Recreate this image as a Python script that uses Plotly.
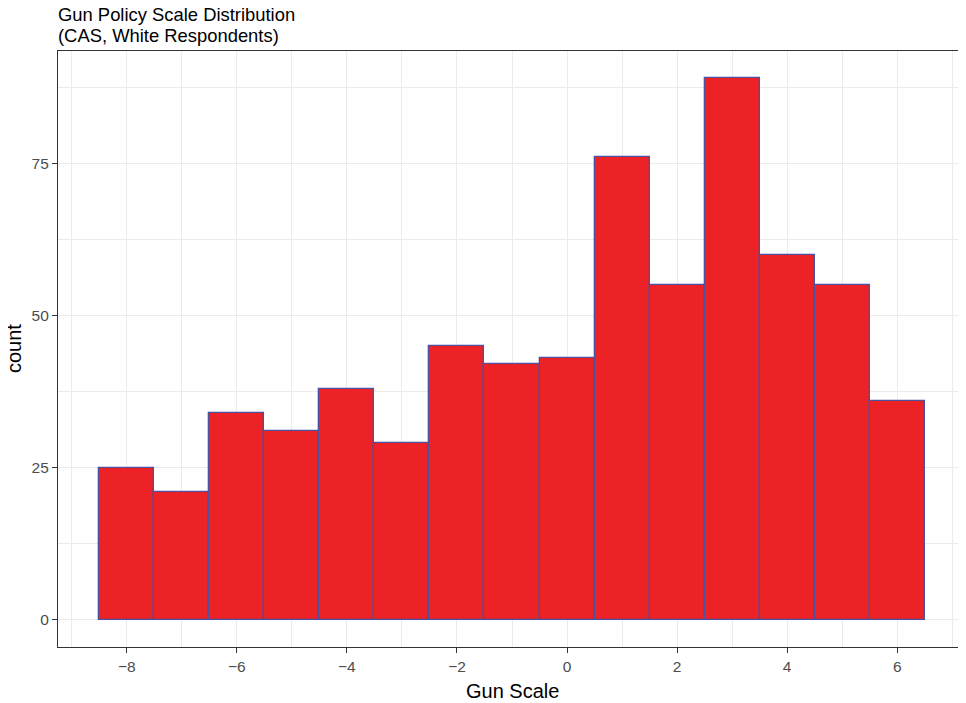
import plotly.graph_objects as go

# Data
bin_centers = [-8, -7, -6, -5, -4, -3, -2, -1, 0, 1, 2, 3, 4, 5, 6]
counts = [25, 21, 34, 31, 38, 29, 45, 42, 43, 76, 55, 89, 60, 55, 36]
x_ticks = [-8, -6, -4, -2, 0, 2, 4, 6]
x_tick_labels = ["\u22128", "\u22126", "\u22124", "\u22122", "0", "2", "4", "6"]
y_ticks = [0, 25, 50, 75]
y_tick_labels = ["0", "25", "50", "75"]
title_lines = ["Gun Policy Scale Distribution", "(CAS, White Respondents)"]
x_title = "Gun Scale"
y_title = "count"

FONT = "Liberation Sans, Arial, Helvetica, sans-serif"
GRID = "#EBEBEB"

fig = go.Figure()
fig.add_trace(go.Bar(
    x=bin_centers, y=counts, width=1,
    marker=dict(color="#EC2227", line=dict(color="#4B50A0", width=1.3)),
    showlegend=False, hoverinfo="x+y",
))

xmin, xmax = min(bin_centers) - 0.5, max(bin_centers) + 0.5
xpad = (xmax - xmin) * 0.05
ymax = max(counts)
ypad = ymax * 0.05

annotations = [
    dict(text=title_lines[0], xref="paper", yref="paper", x=0, y=1,
         xanchor="left", yanchor="middle", yshift=37, xshift=-2, showarrow=False,
         font=dict(size=18.4, color="black", family=FONT)),
    dict(text=title_lines[1], xref="paper", yref="paper", x=0, y=1,
         xanchor="left", yanchor="middle", yshift=16, xshift=-2, showarrow=False,
         font=dict(size=18.4, color="black", family=FONT)),
    dict(text=x_title, xref="paper", yref="paper", x=0.5, y=0,
         xanchor="center", yanchor="middle", yshift=-44, showarrow=False,
         font=dict(size=20, color="black", family=FONT)),
    dict(text=y_title, xref="paper", yref="paper", x=0, y=0.5,
         xanchor="center", yanchor="middle", xshift=-44, textangle=-90,
         showarrow=False, font=dict(size=20, color="black", family=FONT)),
]

fig.update_layout(
    width=958, height=695,
    margin=dict(l=50, r=0, t=43, b=56),
    paper_bgcolor="white", plot_bgcolor="white",
    font=dict(family=FONT, color="black"),
    bargap=0,
    annotations=annotations,
)
fig.update_xaxes(
    automargin=False,
    range=[xmin - xpad, xmax + xpad],
    tickvals=x_ticks, ticktext=x_tick_labels,
    tickfont=dict(size=15.5, color="#4D4D4D"),
    ticks="outside", ticklen=5, tickcolor="#333333", tickwidth=1,
    showgrid=True, gridcolor=GRID, gridwidth=1.1,
    minor=dict(dtick=1, tick0=-9, showgrid=True, gridcolor=GRID, gridwidth=0.55, ticks=""),
    showline=True, linecolor="#333333", linewidth=1.1, mirror=True,
    zeroline=False,
)
fig.update_yaxes(
    automargin=False,
    range=[-ypad, ymax + ypad],
    tickvals=y_ticks, ticktext=y_tick_labels,
    tickfont=dict(size=15.5, color="#4D4D4D"),
    ticks="outside", ticklen=5, tickcolor="#333333", tickwidth=1,
    showgrid=True, gridcolor=GRID, gridwidth=1.1,
    minor=dict(tickvals=[12.5, 37.5, 62.5, 87.5], showgrid=True, gridcolor=GRID, gridwidth=0.55, ticks=""),
    showline=True, linecolor="#333333", linewidth=1.1, mirror=True,
    zeroline=False,
)

fig.write_html("out.html")
